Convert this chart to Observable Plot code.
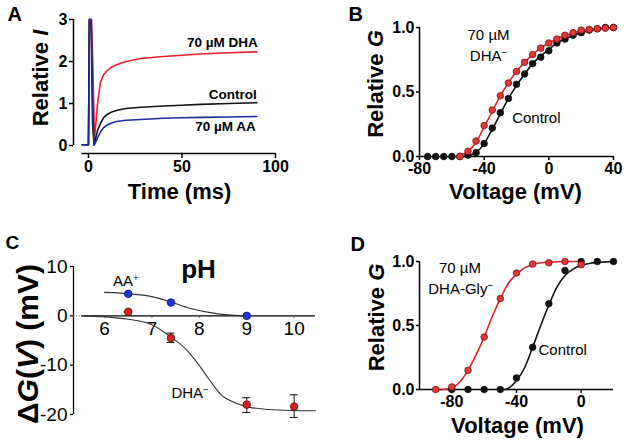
<!DOCTYPE html>
<html><head><meta charset="utf-8">
<script src="https://cdn.jsdelivr.net/npm/d3@7"></script>
<script src="https://cdn.jsdelivr.net/npm/@observablehq/plot@0.6"></script>
<style>
body{margin:0;background:#fff;}
#fig{position:relative;width:630px;height:446px;overflow:hidden;background:#fff;}
.panel{position:absolute;}
</style></head><body><div id="fig"></div>
<script>
// ---------- Panel A: current traces ----------
const tDHA  = [-3.4, 0, 0.5, 1.6, 2.4, 3.2, 4, 5, 6.4, 8, 10, 12.5, 15.4, 20, 28, 40, 50, 60, 75, 90];
const iDHA  = [0.02, 0.02, 3, 3, 1.8, 0.15, 0.55, 1.05, 1.5, 1.68, 1.78, 1.87, 1.93, 2.0, 2.07, 2.12, 2.15, 2.18, 2.21, 2.23];
const tCtrlA = [-3.4, 0, 0.5, 1.4, 2.2, 3, 4, 5, 6.4, 8, 10, 12, 15.4, 20, 28, 40, 50, 60, 75, 90];
const iCtrlA = [0.02, 0.02, 3, 3, 0.5, 0.02, 0.2, 0.38, 0.52, 0.66, 0.74, 0.79, 0.84, 0.88, 0.91, 0.94, 0.96, 0.98, 1.0, 1.02];
const tAA   = [-3.4, 0, 0.5, 1.5, 2.2, 3, 4, 5, 6.4, 8, 10, 12, 15, 20, 28, 40, 50, 60, 75, 90];
const iAA   = [0.02, 0.02, 3, 3, 1, 0.0, 0.1, 0.2, 0.32, 0.42, 0.49, 0.53, 0.57, 0.6, 0.62, 0.65, 0.66, 0.67, 0.68, 0.69];
const ticksTimeA = [0, 50, 100];
const ticksIA = [0, 1, 2, 3];

// ---------- Panel B: G-V, DHA ----------
const vCtrlB = [-75,-70,-65,-60,-55,-50,-45,-40,-35,-30,-25,-20,-15,-10,-5,0,5,10,15,20,25,30,35,40];
const gCtrlB = [0,0,0,0,0,0.01,0.03,0.10,0.22,0.34,0.45,0.56,0.64,0.72,0.77,0.82,0.88,0.91,0.94,0.96,0.98,0.99,1.0,1.0];
const vDHAB = [-55,-50,-45,-40,-35,-30,-25,-20,-15,-10,-5,0,5,10,15,20,25,30,35,40];
const gDHAB = [0,0.04,0.12,0.24,0.36,0.47,0.57,0.66,0.73,0.79,0.84,0.88,0.91,0.94,0.96,0.98,0.985,0.99,0.995,1.0];
const vCtrlFitB = [-52,-50,-45,-40,-35,-30,-25,-20,-15,-10,-5,0,5,10,15,20,25,30,35,40];
const gCtrlFitB = [0,0.005,0.03,0.10,0.21,0.33,0.45,0.55,0.64,0.72,0.78,0.83,0.88,0.91,0.94,0.96,0.975,0.985,0.993,1.0];
const vDHAFitB = [-58,-55,-50,-45,-40,-35,-30,-25,-20,-15,-10,-5,0,5,10,15,20,25,30,35,40];
const gDHAFitB = [0,0.01,0.04,0.11,0.23,0.35,0.47,0.57,0.66,0.73,0.79,0.84,0.88,0.91,0.94,0.96,0.975,0.985,0.99,0.995,1.0];
const ticksVB = [-80, -40, 0, 40];
const ticksG = [0, 0.5, 1];

// ---------- Panel C: ΔG(V) vs pH ----------
const phAA = [6.5, 7.4, 9];
const dgAA = [4.46, 2.7, 0];
const phDHA = [6.5, 7.4, 9, 10];
const dgDHA = [0.81, -4.5, -18.0, -18.4];
const errLoDHA = [0.81, -5.4, -19.6, -20.6];
const errHiDHA = [0.81, -3.5, -16.6, -16.0];
const phFitAA = [6.0, 6.5, 7.0, 7.4, 7.8, 8.2, 8.6, 9.0];
const dgFitAA = [4.75, 4.5, 3.9, 2.8, 1.55, 0.7, 0.2, 0.02];
const phFitDHA = [5.52, 6.0, 6.5, 7.0, 7.4, 7.75, 8.0, 8.2, 8.45, 8.75, 9.0, 9.45, 10.0, 10.45];
const dgFitDHA = [0, -0.2, -0.7, -1.8, -4.3, -7.1, -10.1, -12.8, -15.9, -17.6, -18.4, -19.0, -19.2, -19.25];
const ticksPH = [6, 7, 8, 9, 10];
const ticksDG = [-20, -10, 0, 10];

// ---------- Panel D: G-V, DHA-Gly ----------
const vCtrlD = [-80,-70,-60,-50,-40,-30,-20,-10,0,10,20];
const gCtrlD = [0,0,0,0,0.09,0.33,0.67,0.93,1.0,1.0,1.0];
const vGlyD = [-90,-80,-70,-60,-50,-40,-30,-20,-10,0];
const gGlyD = [0,0.02,0.15,0.41,0.71,0.91,0.98,0.99,1.0,0.975];
const vCtrlFitD = [-47,-45,-40,-35,-30,-25,-20,-15,-10,-5,0,5,10,15,20];
const gCtrlFitD = [0,0.01,0.07,0.17,0.33,0.5,0.66,0.8,0.89,0.94,0.97,0.985,0.993,0.997,1.0];
const vGlyFitD = [-86,-80,-75,-70,-65,-60,-55,-50,-45,-40,-35,-30,-25,-20,-10,0];
const gGlyFitD = [0,0.01,0.06,0.15,0.27,0.41,0.57,0.71,0.83,0.9,0.95,0.975,0.99,0.995,1.0,1.0];
const ticksVD = [-80, -40, 0];

// ---------- styling ----------
const FONT = '"Liberation Sans", Arial, Helvetica, sans-serif';
const RED = "#e5202a", BLUE = "#1c2a9c", BLACK = "#111";
const REDDOT = "#e0383a", REDEDGE = "#7a1212";
const BLUEDOT = "#1e36d4", BLUEEDGE = "#0a1670";

const ITALIC = {
  "Relative I": 'Relative <tspan font-style="italic">I</tspan>',
  "Relative G": 'Relative <tspan font-style="italic">G</tspan>',
  "ΔG(V) (mV)": 'Δ<tspan font-style="italic">G</tspan>(<tspan font-style="italic">V</tspan>) (mV)'
};
function richify(svg) {
  for (const t of svg.querySelectorAll("text")) {
    if (t.children.length) continue;
    const s = t.textContent;
    let html = null;
    if (ITALIC[s]) html = ITALIC[s];
    else if (/[⁺⁻]/.test(s)) html = s
      .replace(/⁺/g, '<tspan baseline-shift="super" font-size="65%">+</tspan>')
      .replace(/⁻/g, '<tspan baseline-shift="super" font-size="65%">−</tspan>');
    if (html) t.innerHTML = html;
  }
}
const fig = document.getElementById("fig");
function addPanel(left, top, opts) {
  const svg = Plot.plot(opts);
  richify(svg);
  const div = document.createElement("div");
  div.className = "panel";
  div.style.left = left + "px";
  div.style.top = top + "px";
  div.append(svg);
  fig.append(div);
}
const baseStyle = (weight) => ({fontFamily: FONT, fontSize: "16px", fontWeight: weight, color: "#000", background: "transparent", overflow: "visible"});
const id = d => d;

// ---------- A ----------
addPanel(0, 0, {
  width: 315, height: 220, marginLeft: 73, marginRight: 40, marginTop: 19, marginBottom: 67,
  style: baseStyle("bold"),
  x: {domain: [-8, 100]}, y: {domain: [-0.19, 3]},
  marks: [
    Plot.ruleX([-8], {y1: 0, y2: 3, strokeWidth: 1.5}),
    Plot.ruleY([-0.19], {x1: -3.5, x2: 100, strokeWidth: 1.5}),
    Plot.axisY({ticks: ticksIA, tickSize: 4, tickPadding: 2, label: null, strokeWidth: 1.5, tickFormat: id}),
    Plot.axisX({ticks: ticksTimeA, tickSize: 5, tickPadding: 2, label: null, strokeWidth: 1.5, tickFormat: id}),
    Plot.line(iDHA, {x: tDHA, y: iDHA, stroke: RED, strokeWidth: 1.6}),
    Plot.line(iCtrlA, {x: tCtrlA, y: iCtrlA, stroke: BLACK, strokeWidth: 1.6}),
    Plot.line(iAA, {x: tAA, y: iAA, stroke: BLUE, strokeWidth: 1.6}),
    Plot.text(["70 µM DHA"], {x: 90.5, y: 2.34, text: id, textAnchor: "end", lineAnchor: "bottom", fontSize: 13.5}),
    Plot.text(["Control"], {x: 90, y: 1.1, text: id, textAnchor: "end", lineAnchor: "bottom", fontSize: 13.5}),
    Plot.text(["70 µM AA"], {x: 89.5, y: 0.34, text: id, textAnchor: "end", lineAnchor: "bottom", fontSize: 13.5}),
    Plot.text(["Relative I"], {frameAnchor: "left", rotate: -90, dx: -26, dy: -8.5, text: id, textAnchor: "middle", lineAnchor: "bottom", fontSize: 22}),
    Plot.text(["Time (ms)"], {frameAnchor: "bottom", dx: 5, dy: 45, text: id, textAnchor: "middle", lineAnchor: "bottom", fontSize: 22}),
    Plot.text(["A"], {frameAnchor: "top-left", dx: -66, dy: 1, text: id, textAnchor: "start", lineAnchor: "bottom", fontSize: 20})
  ]
});

// ---------- B ----------
addPanel(315, 0, {
  width: 315, height: 220, marginLeft: 104, marginRight: 17, marginTop: 27, marginBottom: 64,
  style: baseStyle("bold"),
  x: {domain: [-80, 40]}, y: {domain: [0, 1]},
  marks: [
    Plot.ruleX([-80], {y1: 0, y2: 1, strokeWidth: 1.5}),
    Plot.ruleY([0], {x1: -80, x2: 40, strokeWidth: 1.5}),
    Plot.axisY({ticks: ticksG, tickSize: 3, tickPadding: 2, label: null, strokeWidth: 1.5, tickFormat: d => d.toFixed(1)}),
    Plot.axisX({ticks: ticksVB, tickSize: 4, tickPadding: 2, label: null, strokeWidth: 1.5, tickFormat: id}),
    Plot.line(gCtrlFitB, {x: vCtrlFitB, y: gCtrlFitB, stroke: BLACK, strokeWidth: 1.6, curve: "monotone-x"}),
    Plot.line(gDHAFitB, {x: vDHAFitB, y: gDHAFitB, stroke: RED, strokeWidth: 1.6, curve: "monotone-x"}),
    Plot.dot(gCtrlB, {x: vCtrlB, y: gCtrlB, r: 3.3, fill: BLACK, stroke: BLACK, strokeWidth: 0.8}),
    Plot.dot(gDHAB, {x: vDHAB, y: gDHAB, r: 3.3, fill: REDDOT, stroke: REDEDGE, strokeWidth: 0.8}),
    Plot.text(["70 µM"], {x: -37.3, y: 0.905, text: id, lineAnchor: "bottom", fontSize: 15, fontWeight: "normal"}),
    Plot.text(["DHA⁻"], {x: -37.3, y: 0.74, text: id, lineAnchor: "bottom", fontSize: 15, fontWeight: "normal"}),
    Plot.text(["Control"], {x: -22.7, y: 0.256, text: id, textAnchor: "start", lineAnchor: "bottom", fontSize: 15, fontWeight: "normal"}),
    Plot.text(["Relative G"], {frameAnchor: "left", rotate: -90, dx: -37, dy: -8, text: id, textAnchor: "middle", lineAnchor: "bottom", fontSize: 22}),
    Plot.text(["Voltage (mV)"], {frameAnchor: "bottom", dx: -1, dy: 42, text: id, textAnchor: "middle", lineAnchor: "bottom", fontSize: 22}),
    Plot.text(["B"], {frameAnchor: "top-left", dx: -71, dy: -7, text: id, textAnchor: "start", lineAnchor: "bottom", fontSize: 20})
  ]
});

// ---------- C ----------
addPanel(0, 220, {
  width: 315, height: 226, marginLeft: 73, marginRight: 0, marginTop: 46, marginBottom: 32,
  style: baseStyle("normal"),
  x: {domain: [5.345, 10.45], axis: null}, y: {domain: [-20, 10]},
  marks: [
    Plot.ruleX([5.345], {y1: -20, y2: 10, strokeWidth: 1.3}),
    Plot.ruleY([0], {x1: 5.52, x2: 10.45, strokeWidth: 1.3}),
    Plot.ruleY([0], {x1: 5.345, x2: 5.52, strokeWidth: 1, strokeDasharray: "1,2", stroke: "#666"}),
    Plot.axisY({ticks: ticksDG, tickSize: 3, tickPadding: 3, label: null, strokeWidth: 1.3, fontSize: 19, tickFormat: id}),
    Plot.ruleX(ticksPH, {x: id, y1: 0, y2: -0.5, strokeWidth: 1, stroke: "#555"}),
    Plot.text(ticksPH, {x: id, y: 0, text: d => String(d), lineAnchor: "top", dy: 6, fontSize: 19}),
    Plot.line(dgFitAA, {x: phFitAA, y: dgFitAA, stroke: "#333", strokeWidth: 1.1, curve: "monotone-x"}),
    Plot.line(dgFitDHA, {x: phFitDHA, y: dgFitDHA, stroke: "#333", strokeWidth: 1.1, curve: "monotone-x"}),
    Plot.ruleX(dgDHA, {x: phDHA, y1: errLoDHA, y2: errHiDHA, stroke: "#222", strokeWidth: 1.1}),
    Plot.ruleY(errLoDHA, {y: errLoDHA, x1: phDHA.map(p => p - 0.085), x2: phDHA.map(p => p + 0.085), stroke: "#222", strokeWidth: 1.1}),
    Plot.ruleY(errHiDHA, {y: errHiDHA, x1: phDHA.map(p => p - 0.085), x2: phDHA.map(p => p + 0.085), stroke: "#222", strokeWidth: 1.1}),
    Plot.dot(dgAA, {x: phAA, y: dgAA, r: 3.8, fill: BLUEDOT, stroke: BLUEEDGE, strokeWidth: 0.8}),
    Plot.dot(dgDHA, {x: phDHA, y: dgDHA, r: 3.8, fill: "#d42428", stroke: "#5a0a0a", strokeWidth: 0.8}),
    Plot.text(["pH"], {frameAnchor: "top", dx: 4, dy: 11, text: id, textAnchor: "middle", lineAnchor: "bottom", fontSize: 26, fontWeight: "bold"}),
    Plot.text(["AA⁺"], {x: 6.18, y: 6.08, text: id, textAnchor: "start", lineAnchor: "bottom", fontSize: 15}),
    Plot.text(["DHA⁻"], {x: 7.41, y: -16.6, text: id, textAnchor: "start", lineAnchor: "bottom", fontSize: 15}),
    Plot.text(["ΔG(V) (mV)"], {frameAnchor: "left", rotate: -90, dx: -36, dy: 3.5, text: id, textAnchor: "middle", lineAnchor: "bottom", fontSize: 30, fontWeight: "bold"}),
    Plot.text(["C"], {frameAnchor: "top-left", dx: -68, dy: -18, text: id, textAnchor: "start", lineAnchor: "bottom", fontSize: 19, fontWeight: "bold"})
  ]
});

// ---------- D ----------
addPanel(315, 220, {
  width: 315, height: 226, marginLeft: 104, marginRight: 17, marginTop: 41, marginBottom: 57,
  style: baseStyle("bold"),
  x: {domain: [-100, 20]}, y: {domain: [0, 1]},
  marks: [
    Plot.ruleX([-100], {y1: 0, y2: 1, strokeWidth: 1.5}),
    Plot.ruleY([0], {x1: -100, x2: 20, strokeWidth: 1.5}),
    Plot.axisY({ticks: ticksG, tickSize: 3, tickPadding: 2, label: null, strokeWidth: 1.5, tickFormat: d => d.toFixed(1)}),
    Plot.axisX({ticks: ticksVD, tickSize: 4, tickPadding: 2, label: null, strokeWidth: 1.5, tickFormat: id}),
    Plot.line(gCtrlFitD, {x: vCtrlFitD, y: gCtrlFitD, stroke: BLACK, strokeWidth: 1.6, curve: "monotone-x"}),
    Plot.line(gGlyFitD, {x: vGlyFitD, y: gGlyFitD, stroke: RED, strokeWidth: 1.6, curve: "monotone-x"}),
    Plot.dot(gCtrlD, {x: vCtrlD, y: gCtrlD, r: 3.3, fill: BLACK, stroke: BLACK, strokeWidth: 0.8}),
    Plot.dot(gGlyD, {x: vGlyD, y: gGlyD, r: 3.3, fill: REDDOT, stroke: REDEDGE, strokeWidth: 0.8}),
    Plot.text(["70 µM"], {x: -75, y: 0.914, text: id, lineAnchor: "bottom", fontSize: 15, fontWeight: "normal"}),
    Plot.text(["DHA-Gly⁻"], {x: -74.5, y: 0.746, text: id, lineAnchor: "bottom", fontSize: 15, fontWeight: "normal"}),
    Plot.text(["Control"], {x: -26.4, y: 0.267, text: id, textAnchor: "start", lineAnchor: "bottom", fontSize: 15, fontWeight: "normal"}),
    Plot.text(["Relative G"], {frameAnchor: "left", rotate: -90, dx: -36, dy: -8, text: id, textAnchor: "middle", lineAnchor: "bottom", fontSize: 22}),
    Plot.text(["Voltage (mV)"], {frameAnchor: "bottom", dx: 1, dy: 43, text: id, textAnchor: "middle", lineAnchor: "bottom", fontSize: 22}),
    Plot.text(["D"], {frameAnchor: "top-left", dx: -69, dy: -11, text: id, textAnchor: "start", lineAnchor: "bottom", fontSize: 20})
  ]
});
</script>
</body></html>
